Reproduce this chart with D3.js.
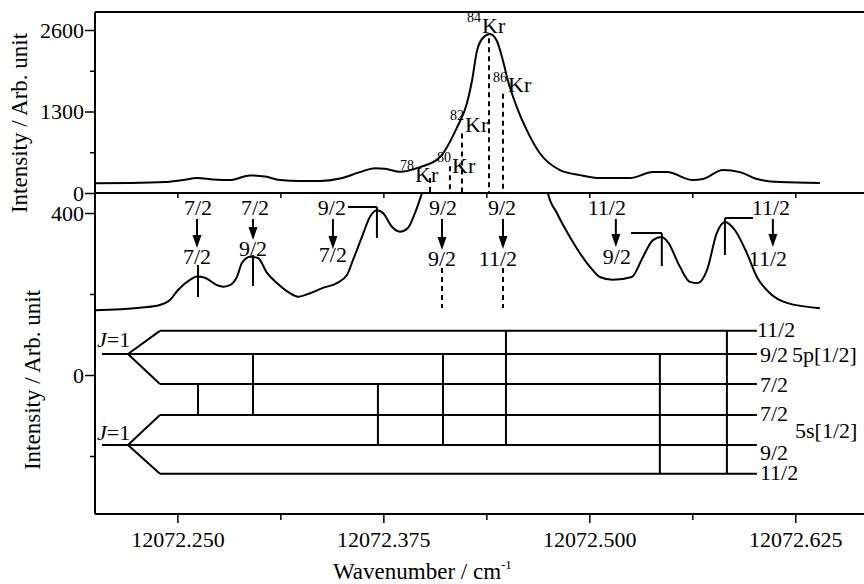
<!DOCTYPE html>
<html><head><meta charset="utf-8">
<script src="https://cdn.jsdelivr.net/npm/d3@7/dist/d3.min.js"></script>
<style>
body{margin:0;background:#fff}
svg{display:block}
svg text{font-family:'Liberation Serif','Times New Roman','Nimbus Roman','DejaVu Serif',serif !important;fill:#000}
</style>
</head><body>
<svg id="c" width="864" height="584"></svg>
<script>
// ---------------- DATA ----------------
const topWave = [12072.2000,12072.2212,12072.2425,12072.2534,12072.2619,12072.2716,12072.2819,12072.2941,12072.3032,12072.3123,12072.3244,12072.3365,12072.3487,12072.3608,12072.3699,12072.3760,12072.3851,12072.3972,12072.4093,12072.4197,12072.4257,12072.4288,12072.4318,12072.4354,12072.4397,12072.4439,12072.4476,12072.4506,12072.4561,12072.4621,12072.4700,12072.4822,12072.4943,12072.5064,12072.5246,12072.5386,12072.5471,12072.5629,12072.5689,12072.5811,12072.5914,12072.6017,12072.6157,12072.6399];
const topIntensity = [154,158,174,206,238,217,206,281,262,206,190,190,230,333,396,388,338,412,571,1046,1427,1791,2267,2473,2536,2425,2108,1791,1363,999,634,365,285,238,238,333,333,206,222,365,333,222,174,158];

const midWave = [12072.2000,12072.2273,12072.2394,12072.2455,12072.2504,12072.2576,12072.2619,12072.2667,12072.2740,12072.2777,12072.2819,12072.2862,12072.2892,12072.2941,12072.2989,12072.3044,12072.3104,12072.3183,12072.3232,12072.3305,12072.3383,12072.3468,12072.3529,12072.3566,12072.3620,12072.3669,12072.3711,12072.3748,12072.3802,12072.3851,12072.3899,12072.3942,12072.3984,12072.4033,12072.4093,12072.4276,12072.4458,12072.4640,12072.4700,12072.4749,12072.4803,12072.4882,12072.5004,12072.5064,12072.5143,12072.5258,12072.5325,12072.5386,12072.5440,12072.5477,12072.5550,12072.5610,12072.5659,12072.5714,12072.5774,12072.5823,12072.5883,12072.5956,12072.6017,12072.6096,12072.6199,12072.6399];
const midIntensity = [160,166,173,185,210,235,243,240,222,218,222,243,277,292,289,252,227,202,193,202,215,227,247,284,341,391,407,400,366,354,363,400,449,518,630,877,901,778,630,449,400,341,267,242,235,242,291,333,341,328,267,230,227,259,351,378,358,301,242,202,178,165];

const isotopeMass = ["78","80","82","84","86"];
const isotopeWave = [12072.4033,12072.4154,12072.4227,12072.4391,12072.4476];
const isotopeIntensity = [238,428,951,2470,1585];

const xMajorTicks = [12072.250,12072.375,12072.500,12072.625];
const xMinorTicks = [12072.3125,12072.4375,12072.5625];
const topYTicks = [0,1300,2600];
const topYMinor = [650,1950];
const lowYTicks = [0,400];
const lowYMinor = [-200,200];

// hfs component labels in the middle panel (arrows)
const arrowWave = [12072.2619,12072.2959,12072.3444,12072.4106,12072.4476,12072.5161,12072.6114];
const arrowUpperLabel = ["7/2","7/2","9/2","9/2","9/2","11/2","11/2"];
const arrowLowerLabel = ["7/2","9/2","7/2","9/2","11/2","9/2","11/2"];

// energy level diagram
const upperLevelF = ["11/2","9/2","7/2"];
const upperLevelE = [109,52,-22];
const lowerLevelF = ["7/2","9/2","11/2"];
const lowerLevelE = [-99,-173,-244];
const transWave = [12072.2625,12072.2959,12072.3717,12072.4112,12072.4494,12072.5428,12072.5835];
const transUpperF = ["7/2","9/2","7/2","9/2","11/2","9/2","11/2"];
const transLowerF = ["7/2","7/2","9/2","9/2","9/2","11/2","11/2"];

// ---------------- LAYOUT ----------------
const svg = d3.select("#c");
const L = 95, R = 864, T = 12, MID = 193, B = 514;
const FS = 22;
const SERIF = "'Liberation Serif','Times New Roman','Nimbus Roman','DejaVu Serif',serif";
const x = d3.scaleLinear().domain([12072.2, 12072.6667]).range([L, R]);
const yTop = d3.scaleLinear().domain([0,2600]).range([MID,30]);
const yLow = d3.scaleLinear().domain([0,400]).range([375,213]);

const defs = svg.append("defs");
defs.append("clipPath").attr("id","clipTop").append("rect").attr("x",L).attr("y",T).attr("width",R-L).attr("height",MID-T);
defs.append("clipPath").attr("id","clipMid").append("rect").attr("x",L).attr("y",MID).attr("width",R-L).attr("height",B-MID);

// curves
const lineTop = d3.line().x((d,i)=>x(topWave[i])).y(d=>yTop(d)).curve(d3.curveMonotoneX);
svg.append("path").attr("clip-path","url(#clipTop)").attr("d",lineTop(topIntensity))
  .attr("fill","none").attr("stroke","#000").attr("stroke-width",2);
const lineMid = d3.line().x((d,i)=>x(midWave[i])).y(d=>yLow(d)).curve(d3.curveMonotoneX);
svg.append("path").attr("clip-path","url(#clipMid)").attr("d",lineMid(midIntensity))
  .attr("fill","none").attr("stroke","#000").attr("stroke-width",2);

// isotope dashed lines
isotopeWave.forEach((w,i)=>{
  svg.append("line").attr("x1",x(w)).attr("x2",x(w)).attr("y1",yTop(isotopeIntensity[i])).attr("y2",MID)
    .attr("stroke","#000").attr("stroke-width",2).attr("stroke-dasharray","5,4");
});
// isotope labels
const isoLabelPos = [[400,170,182],[437,162,173],[450,120,132],[467,22,33],[493,82,92]];
isotopeMass.forEach((m,i)=>{
  const p = isoLabelPos[i];
  svg.append("text").attr("x",p[0]).attr("y",p[1]).attr("font-size",14).text(m);
  svg.append("text").attr("x",p[0]+15).attr("y",p[2]).attr("font-size",FS).text("Kr");
});

// frame lines
svg.append("line").attr("x1",L).attr("x2",R+10).attr("y1",T).attr("y2",T).attr("stroke","#000").attr("stroke-width",2);
svg.append("line").attr("x1",L).attr("x2",R+10).attr("y1",MID).attr("y2",MID).attr("stroke","#000").attr("stroke-width",2);
svg.append("line").attr("x1",L).attr("x2",R+10).attr("y1",B).attr("y2",B).attr("stroke","#000").attr("stroke-width",2);
svg.append("line").attr("x1",L).attr("x2",L).attr("y1",T).attr("y2",B).attr("stroke","#000").attr("stroke-width",2);

function styleAxis(g){
  g.attr("font-family",SERIF).attr("font-size",FS);
  g.select(".domain").remove();
  g.selectAll(".tick line").attr("stroke","#000").attr("stroke-width",1.5);
  g.selectAll(".tick text").attr("font-size",FS).attr("fill","#000");
}
// left axes
svg.append("g").attr("transform",`translate(${L},0)`).call(d3.axisLeft(yTop).tickValues(topYTicks).tickSize(10).tickPadding(1).tickFormat(d3.format("d"))).call(styleAxis);
svg.append("g").attr("transform",`translate(${L},0)`).call(d3.axisLeft(yTop).tickValues(topYMinor).tickSize(5).tickFormat("")).call(styleAxis);
svg.append("g").attr("transform",`translate(${L},0)`).call(d3.axisLeft(yLow).tickValues(lowYTicks).tickSize(10).tickPadding(1).tickFormat(d3.format("d"))).call(styleAxis);
svg.append("g").attr("transform",`translate(${L},0)`).call(d3.axisLeft(yLow).tickValues(lowYMinor).tickSize(5).tickFormat("")).call(styleAxis);
// bottom axis
svg.append("g").attr("transform",`translate(0,${B})`).call(d3.axisBottom(x).tickValues(xMajorTicks).tickSize(9).tickPadding(8).tickFormat(d3.format(".3f"))).call(styleAxis);
svg.append("g").attr("transform",`translate(0,${B})`).call(d3.axisBottom(x).tickValues(xMinorTicks).tickSize(6).tickFormat("")).call(styleAxis);
// inner ticks at top of middle panel
svg.append("g").attr("transform",`translate(0,${MID})`).call(d3.axisBottom(x).tickValues(xMajorTicks.concat(xMinorTicks)).tickSize(5).tickFormat("")).call(styleAxis);

// axis titles
svg.append("text").attr("transform","translate(27,123) rotate(-90)").attr("text-anchor","middle").attr("font-size",23).text("Intensity / Arb. unit");
svg.append("text").attr("transform","translate(40,380) rotate(-90)").attr("text-anchor","middle").attr("font-size",23).text("Intensity / Arb. unit");
const xt = svg.append("text").attr("x",333).attr("y",579).attr("font-size",23);
xt.append("tspan").text("Wavenumber / cm");
xt.append("tspan").attr("font-size",13).attr("dy",-10).text("-1");

// middle-panel arrows and labels
const upLabDx = [1,2,-1,1,-1,-9,-2];
const lowLabDx = [0,0,0,0,-5,1,-5];
const upLabY = 215;
const lowLabY = [264,256,262,266,266,264,266];
const arrowTip = [248,240,249,250,249,247,247];
arrowWave.forEach((w,i)=>{
  const cx = x(w);
  svg.append("text").attr("x",cx+upLabDx[i]).attr("y",upLabY).attr("text-anchor","middle").attr("font-size",FS).text(arrowUpperLabel[i]);
  svg.append("line").attr("x1",cx).attr("x2",cx).attr("y1",219).attr("y2",arrowTip[i]-10)
    .attr("stroke","#000").attr("stroke-width",2);
  svg.append("path").attr("d",`M${cx-4.5},${arrowTip[i]-13} L${cx+4.5},${arrowTip[i]-13} L${cx},${arrowTip[i]} Z`).attr("fill","#000");
  svg.append("text").attr("x",cx+lowLabDx[i]).attr("y",lowLabY[i]).attr("text-anchor","middle").attr("font-size",FS).text(arrowLowerLabel[i]);
});

// peak markers in middle panel: [wave, yTopPx, yBotPx, connectorOtherEndPx]
const peakMarks = [
  [transWave[0], 265, 297, null],
  [transWave[1], 255, 286, null],
  [12072.3711, 207, 238, 348],
  [12072.5440, 233, 266, 631],
  [12072.5823, 218, 255, 753]
];
peakMarks.forEach(m=>{
  const cx = x(m[0]);
  svg.append("line").attr("x1",cx).attr("x2",cx).attr("y1",m[1]).attr("y2",m[2]).attr("stroke","#000").attr("stroke-width",2);
  if(m[3]!==null) svg.append("line").attr("x1",cx).attr("x2",m[3]).attr("y1",m[1]).attr("y2",m[1]).attr("stroke","#000").attr("stroke-width",2);
});
// dashed hidden components
[arrowWave[3], arrowWave[4]].forEach(w=>{
  svg.append("line").attr("x1",x(w)).attr("x2",x(w)).attr("y1",268).attr("y2",308)
    .attr("stroke","#000").attr("stroke-width",2).attr("stroke-dasharray","5,4");
});

// energy level diagram
const xStart = x(12072.2042), xVert = x(12072.2200), xSplit = x(12072.2394), xEnd = x(12072.6017);
function drawLevels(F, E){
  F.forEach((f,i)=>{
    const y = yLow(E[i]);
    const isCentre = (i===1);
    svg.append("line").attr("x1",isCentre?xStart:xSplit).attr("x2",xEnd).attr("y1",y).attr("y2",y).attr("stroke","#000").attr("stroke-width",2);
    if(!isCentre){
      svg.append("line").attr("x1",xVert).attr("y1",yLow(E[1])).attr("x2",xSplit).attr("y2",y).attr("stroke","#000").attr("stroke-width",2);
    }
  });
}
drawLevels(upperLevelF, upperLevelE);
drawLevels(lowerLevelF, lowerLevelE);
// transitions
transWave.forEach((w,i)=>{
  const yu = yLow(upperLevelE[upperLevelF.indexOf(transUpperF[i])]);
  const yl = yLow(lowerLevelE[lowerLevelF.indexOf(transLowerF[i])]);
  svg.append("line").attr("x1",x(w)).attr("x2",x(w)).attr("y1",yu).attr("y2",yl).attr("stroke","#000").attr("stroke-width",2);
});
// level labels
const upLabOff = [6,8,8];
const lowLabOff = [6,15,6];
upperLevelF.forEach((f,i)=>{
  svg.append("text").attr("x",xEnd+(i===0?0:3)).attr("y",yLow(upperLevelE[i])+upLabOff[i]).attr("font-size",FS).text(f);
});
lowerLevelF.forEach((f,i)=>{
  svg.append("text").attr("x",xEnd+3).attr("y",yLow(lowerLevelE[i])+lowLabOff[i]).attr("font-size",FS).text(f);
});
svg.append("text").attr("x",792).attr("y",yLow(upperLevelE[1])+8).attr("font-size",FS).text("5p[1/2]");
svg.append("text").attr("x",795).attr("y",438).attr("font-size",FS).text("5s[1/2]");
// J=1 labels
[[yLow(upperLevelE[1])-7],[yLow(lowerLevelE[1])-5]].forEach(p=>{
  const t = svg.append("text").attr("x",97).attr("y",p[0]).attr("font-size",FS);
  t.append("tspan").attr("font-style","italic").text("J");
  t.append("tspan").text("=1");
});
</script>
</body></html>
